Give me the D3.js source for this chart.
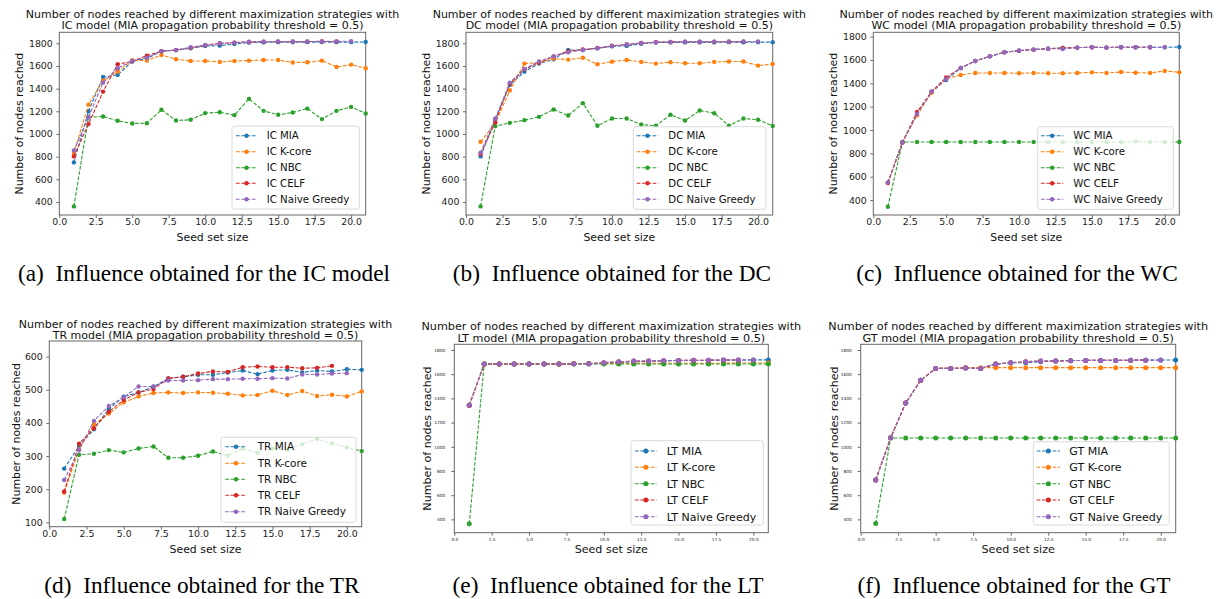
<!DOCTYPE html>
<html>
<head>
<meta charset="utf-8">
<script src="https://cdn.jsdelivr.net/npm/d3@7"></script>
<style>
  body { margin: 0; background: #fff; }
  svg { display: block; }
</style>
</head>
<body>
<svg id="fig" width="1221" height="599"></svg>
<script>
// seed set sizes shared by every panel
const seedSizes = [1,2,3,4,5,6,7,8,9,10,11,12,13,14,15,16,17,18,19,20,21];
const strategies = ["MIA", "K-core", "NBC", "CELF", "Naive Greedy"];
const colors = ["#1f77b4", "#ff7f0e", "#2ca02c", "#d62728", "#9467bd"];
const xTicks = [0, 2.5, 5, 7.5, 10, 12.5, 15, 17.5, 20];
const yTicksBig = [400, 600, 800, 1000, 1200, 1400, 1600, 1800];
const yTicksTR = [100, 200, 300, 400, 500, 600];

// (a) IC
const icMIA   = [749,1201,1503,1521,1640,1665,1730,1740,1756,1776,1779,1794,1806,1808,1810,1810,1810,1811,1810,1810,1811];
const icKcore = [831,1259,1471,1550,1650,1647,1697,1659,1644,1644,1636,1644,1647,1653,1653,1630,1633,1647,1591,1612,1580];
const icNBC   = [361,1148,1154,1116,1092,1095,1213,1119,1125,1184,1192,1166,1310,1204,1169,1190,1224,1131,1204,1239,1180];
const icCELF  = [802,1087,1374,1615,1641,1691,1730,1740,1760,1782,1798,1806,1812,1814,1815,1815,1815,1816,1816];
const icNaive = [854,1148,1453,1580,1645,1673,1730,1740,1765,1785,1800,1806,1814,1815,1816,1816,1816,1817,1817,1818];

// (b) DC
const dcMIA   = [802,1125,1433,1550,1621,1659,1741,1741,1756,1774,1777,1796,1806,1808,1808,1808,1808,1810,1808,1810,1810];
const dcKcore = [931,1095,1383,1621,1630,1665,1656,1673,1615,1638,1653,1636,1621,1633,1624,1624,1636,1639,1639,1603,1617];
const dcNBC   = [361,1069,1098,1122,1151,1216,1163,1272,1072,1136,1136,1083,1073,1169,1119,1207,1183,1074,1136,1126,1070];
const dcCELF  = [823,1104,1445,1570,1630,1685,1730,1745,1758,1778,1790,1802,1810,1812,1814,1814,1814,1815,1815];
const dcNaive = [834,1136,1453,1574,1640,1685,1721,1741,1756,1776,1790,1802,1809,1812,1814,1815,1815,1816,1816,1816];

// (c) WC
const wcMIA   = [549,894,1137,1329,1429,1531,1591,1631,1666,1680,1689,1697,1703,1706,1709,1706,1709,1709,1709,1709,1711];
const wcKcore = [543,894,1126,1320,1440,1471,1489,1489,1489,1486,1489,1486,1486,1489,1494,1489,1497,1491,1489,1506,1494];
const wcNBC   = [343,897,897,897,897,897,897,897,897,897,897,897,897,897,897,897,895,902,897,897,897];
const wcCELF  = [549,894,1154,1329,1451,1531,1591,1631,1666,1680,1689,1697,1703,1706,1709,1706,1709,1709,1709];
const wcNaive = [549,894,1137,1329,1437,1531,1591,1631,1666,1680,1689,1697,1694,1706,1709,1706,1709,1709,1709,1709];

// (d) TR
const trMIA   = [262,330,381,443,479,492,509,534,539,545,545,552,558,547,558,560,552,558,555,562,560];
const trKcore = [190,320,395,428,462,480,490,492,490,492,491,488,483,484,497,484,496,481,485,480,495];
const trNBC   = [110,304,307,318,311,323,329,295,295,301,314,301,323,310,323,319,336,351,338,326,315];
const trCELF  = [193,337,384,434,469,492,502,534,539,549,555,554,568,570,568,568,565,566,572];
const trNaive = [228,318,406,451,477,510,510,528,528,529,532,532,533,533,535,534,546,546,549,550];

// (e) LT
const ltMIA   = [1343,1684,1684,1684,1684,1684,1685,1686,1686,1690,1697,1702,1706,1709,1712,1713,1714,1715,1716,1718,1718];
const ltKcore = [1343,1684,1684,1684,1684,1684,1687,1688,1688,1688,1689,1690,1690,1690,1691,1691,1691,1691,1692,1692,1692];
const ltNBC   = [363,1684,1684,1684,1684,1684,1684,1684,1684,1684,1684,1684,1684,1684,1684,1684,1684,1684,1684,1684,1684];
const ltCELF  = [1343,1684,1684,1684,1684,1684,1685,1686,1686,1695,1703,1708,1710,1712,1714,1715,1716,1718,1718];
const ltNaive = [1343,1684,1684,1684,1684,1684,1685,1686,1686,1695,1703,1708,1710,1712,1714,1715,1716,1718,1718,1718];

// (f) GT
const gtMIA   = [726,1075,1362,1549,1648,1648,1651,1648,1684,1695,1695,1703,1709,1712,1714,1714,1714,1716,1716,1717,1717];
const gtKcore = [726,1075,1362,1549,1648,1648,1654,1654,1654,1654,1654,1654,1654,1654,1654,1654,1654,1654,1654,1654,1654];
const gtNBC   = [365,1073,1073,1073,1073,1073,1073,1073,1073,1073,1073,1073,1073,1073,1073,1073,1073,1073,1073,1073,1073];
const gtCELF  = [726,1075,1362,1549,1648,1648,1651,1648,1684,1695,1703,1709,1709,1712,1714,1714,1714,1716,1716];
const gtNaive = [726,1075,1362,1549,1648,1648,1651,1648,1684,1695,1703,1709,1709,1712,1714,1714,1714,1716,1716,1716];

const svg = d3.select("#fig");
const SANS = "DejaVu Sans";
const SERIF = "Liberation Serif";

const panels = [
  { model: "IC", series: [icMIA, icKcore, icNBC, icCELF, icNaive], yDomain: [285, 1897], yTicks: yTicksBig,
    box: [59.3, 365.7, 32.3, 215], titleY: [14, 25], titleSize: 11, tickSize: 9.4, labelSize: 10.9,
    xTickY: 221.7, xLabelY: 236.7, yLabelX: 19.3, tickGap: 3.5, r: 2.2,
    legend: { x0: 232, x1: 359.3, y0: 126, y1: 209, lx0: 236, lx1: 257, tx: 266.7, rows: [135.7, 151.7, 167.7, 183.3, 199.3], size: 10.2 },
    caption: { x: 204, y: 273, text: "(a)\u2002Influence obtained for the IC model" } },
  { model: "DC", series: [dcMIA, dcKcore, dcNBC, dcCELF, dcNaive], yDomain: [285, 1897], yTicks: yTicksBig,
    box: [466, 772.7, 32.3, 215], titleY: [14, 25], titleSize: 11, tickSize: 9.4, labelSize: 10.9,
    xTickY: 221.7, xLabelY: 236.7, yLabelX: 426, tickGap: 3.5, r: 2.2,
    legend: { x0: 633.3, x1: 766, y0: 126.7, y1: 209.3, lx0: 636.7, lx1: 658.3, tx: 668.3, rows: [135.7, 151.7, 167.7, 183.3, 199.3], size: 10.2 },
    caption: { x: 612, y: 273, text: "(b)\u2002Influence obtained for the DC" } },
  { model: "WC", series: [wcMIA, wcKcore, wcNBC, wcCELF, wcNaive], yDomain: [272, 1837], yTicks: yTicksBig,
    box: [873.3, 1179.3, 32.3, 215], titleY: [14, 25], titleSize: 11, tickSize: 9.4, labelSize: 10.9,
    xTickY: 221.7, xLabelY: 236.7, yLabelX: 833.3, tickGap: 3.5, r: 2.2,
    legend: { x0: 1037.7, x1: 1173.3, y0: 126.7, y1: 209.3, lx0: 1041, lx1: 1063.3, tx: 1073.3, rows: [135.7, 151.7, 167.7, 183.3, 199.3], size: 10.2 },
    caption: { x: 1017, y: 273, text: "(c)\u2002Influence obtained for the WC" } },
  { model: "TR", series: [trMIA, trKcore, trNBC, trCELF, trNaive], yDomain: [87, 647], yTicks: yTicksTR,
    box: [49.3, 361.7, 341, 526.7], titleY: [324, 335], titleSize: 11, tickSize: 9.4, labelSize: 10.9,
    xTickY: 533.3, xLabelY: 549, yLabelX: 16, tickGap: 3.5, r: 2.2,
    legend: { x0: 221, x1: 356, y0: 437.3, y1: 522.3, lx0: 225.3, lx1: 246.7, tx: 257.7, rows: [446.7, 463.3, 479.3, 495.3, 511.7], size: 10.5 },
    caption: { x: 202, y: 585, text: "(d)\u2002Influence obtained for the TR" } },
  { model: "LT", series: [ltMIA, ltKcore, ltNBC, ltCELF, ltNaive], yDomain: [290, 1847], yTicks: yTicksBig,
    box: [454.3, 768.3, 344.3, 532.7], titleY: [325.7, 338.3], titleSize: 11.2, tickSize: 4.3, labelSize: 11.1,
    xTickY: 540, xLabelY: 549, yLabelX: 426.7, tickGap: 6, r: 2.5,
    legend: { x0: 631, x1: 763.3, y0: 440.7, y1: 525, lx0: 635, lx1: 656.7, tx: 666.7, rows: [451, 467.3, 483.7, 500, 516.7], size: 11 },
    caption: { x: 608, y: 585, text: "(e)\u2002Influence obtained for the LT" } },
  { model: "GT", series: [gtMIA, gtKcore, gtNBC, gtCELF, gtNaive], yDomain: [290, 1847], yTicks: yTicksBig,
    box: [860.7, 1175.7, 344.3, 532.7], titleY: [325.7, 338.3], titleSize: 11.2, tickSize: 4.3, labelSize: 11.1,
    xTickY: 540, xLabelY: 549, yLabelX: 834, tickGap: 6, r: 2.5,
    legend: { x0: 1033.3, x1: 1169.3, y0: 441.7, y1: 525, lx0: 1036.7, lx1: 1060, tx: 1069.3, rows: [451, 467.3, 483.7, 500, 516.7], size: 11 },
    caption: { x: 1014, y: 585, text: "(f)\u2002Influence obtained for the GT" } }
];

panels.forEach(drawPanel);

function drawPanel(p) {
  const [left, right, top, bottom] = p.box;
  const x = d3.scaleLinear().domain([0, 21]).range([left, right]);
  const y = d3.scaleLinear().domain(p.yDomain).range([bottom, top]);
  const g = svg.append("g");

  // axes
  const xAxis = g.append("g").attr("transform", `translate(0,${bottom})`)
    .call(d3.axisBottom(x).tickValues(xTicks).tickFormat(d3.format(".1f")).tickSize(3).tickPadding(0));
  xAxis.selectAll("text").attr("y", p.xTickY - bottom).attr("dy", "0.35em");
  const yAxis = g.append("g").attr("transform", `translate(${left},0)`)
    .call(d3.axisLeft(y).tickValues(p.yTicks).tickFormat(d3.format("d")).tickSize(3).tickPadding(p.tickGap));
  [xAxis, yAxis].forEach(a => {
    a.select(".domain").remove();
    a.selectAll("line").attr("stroke", "#444").attr("stroke-width", 0.8);
    a.selectAll("text").attr("font-family", SANS).attr("font-size", p.tickSize).attr("fill", "#222");
  });

  // frame
  g.append("rect").attr("x", left).attr("y", top).attr("width", right - left).attr("height", bottom - top)
    .attr("fill", "none").attr("stroke", "#666").attr("stroke-width", 1);

  // series
  const clip = "clip-" + p.model;
  svg.append("clipPath").attr("id", clip).append("rect")
    .attr("x", left).attr("y", top - 3).attr("width", right - left + 3).attr("height", bottom - top + 6);
  const plot = g.append("g").attr("clip-path", `url(#${clip})`);
  const line = d3.line().x((d, i) => x(seedSizes[i])).y(d => y(d));
  p.series.forEach((vals, k) => {
    plot.append("path").datum(vals).attr("d", line)
      .attr("fill", "none").attr("stroke", colors[k]).attr("stroke-width", 1.1)
      .attr("stroke-dasharray", "3.7,1.6");
    plot.selectAll(null).data(vals).enter().append("circle")
      .attr("cx", (d, i) => x(seedSizes[i])).attr("cy", d => y(d))
      .attr("r", p.r).attr("fill", colors[k]);
  });

  // titles and labels
  const cx = (left + right) / 2;
  const titleLines = ["Number of nodes reached by different maximization strategies with",
    `${p.model} model (MIA propagation probability threshold = 0.5)`];
  titleLines.forEach((t, i) => {
    g.append("text").attr("x", cx).attr("y", p.titleY[i]).attr("dy", "0.35em")
      .attr("text-anchor", "middle").attr("font-family", SANS).attr("font-size", p.titleSize)
      .attr("fill", "#111").text(t);
  });
  g.append("text").attr("x", cx).attr("y", p.xLabelY).attr("dy", "0.35em")
    .attr("text-anchor", "middle").attr("font-family", SANS).attr("font-size", p.labelSize)
    .attr("fill", "#111").text("Seed set size");
  g.append("text").attr("transform", `translate(${p.yLabelX},${(top + bottom) / 2}) rotate(-90)`)
    .attr("dy", "0.35em").attr("text-anchor", "middle").attr("font-family", SANS)
    .attr("font-size", p.labelSize).attr("fill", "#111").text("Number of nodes reached");

  // legend
  const L = p.legend;
  g.append("rect").attr("x", L.x0).attr("y", L.y0).attr("width", L.x1 - L.x0).attr("height", L.y1 - L.y0)
    .attr("rx", 2.5).attr("fill", "#fff").attr("fill-opacity", 0.8)
    .attr("stroke", "#d0d0d0").attr("stroke-width", 0.8);
  strategies.forEach((s, k) => {
    const ry = L.rows[k];
    g.append("line").attr("x1", L.lx0).attr("x2", L.lx1).attr("y1", ry).attr("y2", ry)
      .attr("stroke", colors[k]).attr("stroke-width", 1.1).attr("stroke-dasharray", "3.7,1.6");
    g.append("circle").attr("cx", (L.lx0 + L.lx1) / 2).attr("cy", ry).attr("r", p.r).attr("fill", colors[k]);
    g.append("text").attr("x", L.tx).attr("y", ry).attr("dy", "0.35em")
      .attr("font-family", SANS).attr("font-size", L.size).attr("fill", "#111")
      .text(`${p.model} ${s}`);
  });

  // caption, centred under its column
  g.append("text").attr("x", p.caption.x).attr("y", p.caption.y).attr("dy", "0.35em")
    .attr("text-anchor", "middle").attr("font-family", SERIF).attr("font-size", 23.3)
    .attr("fill", "#000").text(p.caption.text);
}
</script>
</body>
</html>
